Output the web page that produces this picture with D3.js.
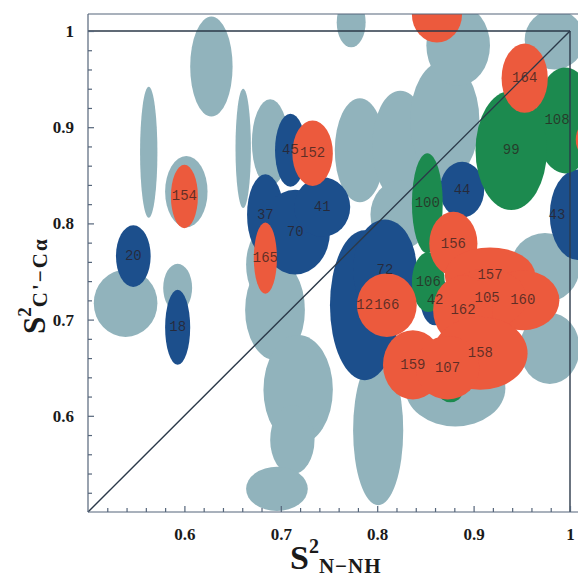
<!DOCTYPE html>
<html><head><meta charset="utf-8">
<script src="https://cdn.jsdelivr.net/npm/d3@7"></script>
<style>html,body{margin:0;padding:0;background:#fff;}svg{display:block;}</style>
</head><body>
<script>
// ---------- data ----------
const xTicks = [0.6, 0.7, 0.8, 0.9, 1];
const yTicks = [0.6, 0.7, 0.8, 0.9, 1];
const xTickLabels = ["0.6", "0.7", "0.8", "0.9", "1"];
const yTickLabels = ["0.6", "0.7", "0.8", "0.9", "1"];

// grey (other residues) ellipses: centre S2(N-NH), S2(C'-Ca), half-widths
const greyX  = [0.563, 0.602, 0.539, 0.593, 0.661, 0.628, 0.773, 0.689, 0.687, 0.694, 0.718, 0.712, 0.696, 0.801, 0.974, 0.979, 0.881, 0.782, 0.824, 0.870, 0.884, 0.824, 0.984];
const greyY  = [0.874, 0.833, 0.717, 0.733, 0.878, 0.963, 1.009, 0.884, 0.757, 0.710, 0.627, 0.575, 0.524, 0.585, 0.754, 0.670, 0.629, 0.876, 0.881, 0.907, 0.985, 0.809, 0.991];
const greyRx = [0.009, 0.022, 0.033, 0.015, 0.008, 0.022, 0.015, 0.019, 0.023, 0.031, 0.036, 0.023, 0.032, 0.026, 0.036, 0.031, 0.052, 0.026, 0.029, 0.036, 0.033, 0.031, 0.031];
const greyRy = [0.068, 0.037, 0.035, 0.025, 0.062, 0.052, 0.026, 0.045, 0.040, 0.052, 0.057, 0.036, 0.023, 0.078, 0.036, 0.037, 0.040, 0.054, 0.057, 0.062, 0.042, 0.036, 0.031];

// blue residues
const blueLabels = ["20", "18", "45", "37", "70", "41", "12", "72", "44", "42", "43"];
const blueX  = [0.547, 0.593, 0.710, 0.684, 0.715, 0.743, 0.787, 0.808, 0.888, 0.860, 1.008];
const blueY  = [0.766, 0.692, 0.876, 0.809, 0.791, 0.817, 0.715, 0.752, 0.835, 0.720, 0.809];
const blueRx = [0.018, 0.013, 0.016, 0.019, 0.036, 0.029, 0.036, 0.033, 0.023, 0.015, 0.029];
const blueRy = [0.032, 0.039, 0.038, 0.042, 0.044, 0.031, 0.078, 0.052, 0.029, 0.026, 0.047];

// green residues
const greenLabels = ["108", "99", "100", "106", ""];
const greenX  = [0.995, 0.939, 0.852, 0.853, 0.876];
const greenY  = [0.907, 0.876, 0.821, 0.739, 0.624];
const greenRx = [0.031, 0.037, 0.016, 0.017, 0.012];
const greenRy = [0.055, 0.062, 0.052, 0.031, 0.010];

// red residues
const redLabels = ["154", "152", "165", "", "164", "156", "157", "160", "105", "162", "158", "159", "107", "166", ""];
const redX  = [0.600, 0.733, 0.684, 0.862, 0.953, 0.879, 0.917, 0.951, 0.914, 0.889, 0.907, 0.837, 0.873, 0.810, 1.021];
const redY  = [0.828, 0.873, 0.764, 1.017, 0.951, 0.779, 0.746, 0.720, 0.722, 0.710, 0.665, 0.653, 0.650, 0.715, 0.887];
const redRx = [0.014, 0.021, 0.012, 0.026, 0.024, 0.025, 0.047, 0.038, 0.041, 0.031, 0.049, 0.031, 0.033, 0.031, 0.015];
const redRy = [0.033, 0.034, 0.037, 0.029, 0.036, 0.033, 0.029, 0.031, 0.031, 0.036, 0.038, 0.036, 0.033, 0.033, 0.020];

// ---------- layout ----------
const W = 578, H = 578;
const left = 88, bottom = 512, frameTop = 14, frameRight = 578;
const x = d3.scaleLinear().domain([0.5, 1.0]).range([88, 570]);
const y = d3.scaleLinear().domain([0.5, 1.0]).range([512, 31]);
const ink = "#2b3949";

const svg = d3.select("body").append("svg").attr("width", W).attr("height", H);
const defs = svg.append("defs");
defs.append("clipPath").attr("id", "plotclip").append("rect")
  .attr("x", left).attr("y", frameTop).attr("width", frameRight - left).attr("height", bottom - frameTop);
const soft = defs.append("filter").attr("id", "soft").attr("x", "-10%").attr("y", "-10%").attr("width", "120%").attr("height", "120%");
soft.append("feGaussianBlur").attr("stdDeviation", 0.7);

const plot = svg.append("g").attr("clip-path", "url(#plotclip)");

function drawGroup(cls, X, Y, RX, RY, fill, opacity) {
  plot.append("g").attr("class", cls).attr("filter", "url(#soft)")
    .selectAll("ellipse").data(d3.range(X.length)).join("ellipse")
    .attr("cx", i => x(X[i])).attr("cy", i => y(Y[i]))
    .attr("rx", i => x(X[i] + RX[i]) - x(X[i]))
    .attr("ry", i => y(Y[i]) - y(Y[i] + RY[i]))
    .attr("fill", fill).attr("fill-opacity", opacity);
}
drawGroup("grey", greyX, greyY, greyRx, greyRy, "#91b3bc", 1);
drawGroup("blue", blueX, blueY, blueRx, blueRy, "#1c4f8c", 1);
drawGroup("green", greenX, greenY, greenRx, greenRy, "#1d8a50", 1);
drawGroup("red", redX, redY, redRx, redRy, "#ec5a3e", 1);

// labels (kept inside the visible picture)
function drawLabels(L, X, Y) {
  plot.append("g").selectAll("text").data(d3.range(L.length).filter(i => L[i] !== "")).join("text")
    .attr("x", i => Math.min(x(X[i]), 557)).attr("y", i => y(Y[i]))
    .attr("text-anchor", "middle").attr("dominant-baseline", "central")
    .attr("font-family", "'Liberation Mono', 'DejaVu Sans Mono', monospace")
    .attr("font-size", 14).attr("fill", "#2a1c1c").attr("fill-opacity", 0.72)
    .text(i => L[i]);
}
drawLabels(blueLabels, blueX, blueY);
drawLabels(greenLabels, greenX, greenY);
drawLabels(redLabels, redX, redY);

// reference lines
const lines = svg.append("g").attr("stroke", ink).attr("fill", "none");
lines.append("line").attr("x1", x(0.5)).attr("y1", y(0.5)).attr("x2", x(1)).attr("y2", y(1)).attr("stroke-width", 1.4);
lines.append("line").attr("x1", x(0.5)).attr("y1", y(1)).attr("x2", x(1)).attr("y2", y(1)).attr("stroke-width", 1.6);
lines.append("line").attr("x1", x(1)).attr("y1", y(1)).attr("x2", x(1)).attr("y2", y(0.5)).attr("stroke-width", 1.4);
// outer frame (top & axes lines)
lines.append("line").attr("x1", left).attr("y1", frameTop).attr("x2", frameRight).attr("y2", frameTop).attr("stroke-width", 1.2).attr("stroke", "#55657a");
lines.append("line").attr("x1", left).attr("y1", frameTop).attr("x2", left).attr("y2", bottom).attr("stroke-width", 1.2).attr("stroke", "#55657a");
lines.append("line").attr("x1", left).attr("y1", bottom).attr("x2", frameRight).attr("y2", bottom).attr("stroke-width", 1.2).attr("stroke", "#55657a");

// axes
const minorX = d3.range(0.52, 1.011, 0.02).map(v => +v.toFixed(2)).filter(v => !xTicks.includes(v));
const minorY = d3.range(0.52, 1.011, 0.02).map(v => +v.toFixed(2)).filter(v => !yTicks.includes(v));

function styleAxis(g) {
  g.select(".domain").remove();
  g.selectAll(".tick line").attr("stroke", "#55657a").attr("stroke-width", 1.2);
  g.selectAll(".tick text").attr("font-family", "'Liberation Serif', 'DejaVu Serif', serif")
    .attr("font-weight", "bold").attr("font-size", 17).attr("fill", "#1a1a1a");
}
svg.append("g").attr("transform", `translate(0,${bottom})`)
  .call(d3.axisBottom(x).tickValues(xTicks).tickSizeInner(-6).tickSizeOuter(0).tickPadding(16)
    .tickFormat((d, i) => xTickLabels[i]))
  .call(styleAxis);
svg.append("g").attr("transform", `translate(0,${bottom})`)
  .call(d3.axisBottom(x).tickValues(minorX).tickSizeInner(-4).tickSizeOuter(0).tickFormat(""))
  .call(styleAxis);
svg.append("g").attr("transform", `translate(${left},0)`)
  .call(d3.axisLeft(y).tickValues(yTicks).tickSizeInner(-6).tickSizeOuter(0).tickPadding(14)
    .tickFormat((d, i) => yTickLabels[i]))
  .call(styleAxis);
svg.append("g").attr("transform", `translate(${left},0)`)
  .call(d3.axisLeft(y).tickValues(minorY).tickSizeInner(-4).tickSizeOuter(0).tickFormat(""))
  .call(styleAxis);

// axis titles
const serif = "'Liberation Serif', 'DejaVu Serif', serif";
const xt = svg.append("text").attr("x", 290).attr("y", 569)
  .attr("font-family", serif).attr("font-weight", "bold").attr("fill", "#1a1a1a");
xt.append("tspan").attr("font-size", 34).text("S");
xt.append("tspan").attr("font-size", 20).attr("dy", -16).text("2");
xt.append("tspan").attr("font-size", 21).attr("dy", 20).attr("letter-spacing", 1).text("N\u2212NH");

const yt = svg.append("text").attr("transform", "translate(45,334) rotate(-90)")
  .attr("font-family", serif).attr("font-weight", "bold").attr("fill", "#1a1a1a");
yt.append("tspan").attr("font-size", 31).text("S");
yt.append("tspan").attr("font-size", 19).attr("dy", -14).text("2");
yt.append("tspan").attr("font-size", 21).attr("dy", 16).attr("letter-spacing", 2).text("C'\u2212C\u03b1");
</script>
</body></html>
